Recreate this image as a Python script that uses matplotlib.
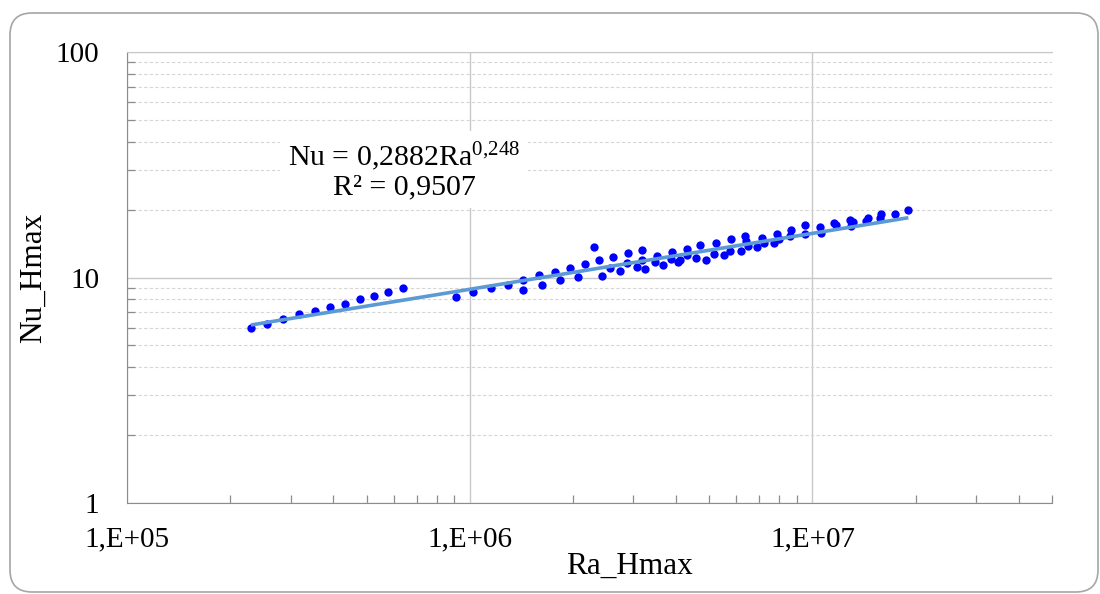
import matplotlib.pyplot as plt
import numpy as np
from matplotlib.patches import FancyBboxPatch
from matplotlib.ticker import FixedLocator, LogLocator, NullFormatter

plt.rcParams['font.family'] = ['Liberation Serif', 'DejaVu Serif']
plt.rcParams['mathtext.fontset'] = 'custom'
plt.rcParams['mathtext.rm'] = 'Liberation Serif'

# points (Ra_Hmax, Nu_Hmax)
ra = [2.30e5, 2.57e5, 2.86e5, 3.17e5, 3.54e5, 3.90e5, 4.32e5, 4.78e5, 5.25e5, 5.76e5, 6.37e5,
      9.14e5, 1.025e6, 1.152e6, 1.289e6, 1.435e6, 1.435e6, 1.588e6, 1.624e6, 1.772e6, 1.829e6,
      1.956e6, 2.065e6, 2.169e6, 2.300e6, 2.379e6, 2.437e6, 2.566e6, 2.624e6, 2.745e6, 2.878e6,
      2.891e6, 3.084e6, 3.184e6, 3.184e6, 3.242e6, 3.468e6, 3.522e6, 3.674e6, 3.869e6, 3.888e6,
      4.064e6, 4.111e6, 4.319e6, 4.319e6, 4.580e6, 4.705e6, 4.875e6, 5.159e6, 5.215e6, 5.503e6,
      5.731e6, 5.797e6, 6.172e6, 6.339e6, 6.412e6, 6.487e6, 6.906e6, 7.143e6, 7.226e6, 7.727e6,
      7.901e6, 7.98e6, 8.584e6, 8.684e6, 9.495e6, 9.495e6, 1.050e7, 1.062e7, 1.157e7, 1.175e7,
      1.285e7, 1.300e7, 1.315e7, 1.43e7, 1.448e7, 1.57e7, 1.584e7, 1.740e7, 1.905e7]
nu = [5.95, 6.25, 6.53, 6.87, 7.11, 7.43, 7.66, 8.01, 8.32, 8.66, 9.00,
      8.21, 8.58, 8.94, 9.31, 9.73, 8.78, 10.24, 9.31, 10.56, 9.73,
      11.04, 10.03, 11.42, 13.69, 11.94, 10.18, 11.04, 12.36, 10.67, 11.54,
      12.78, 11.16, 13.22, 11.94, 10.89, 11.66, 12.49, 11.39, 12.06, 12.92,
      11.66, 11.94, 13.36, 12.57, 12.24, 13.92, 11.94, 12.65, 14.16, 12.53,
      13.09, 14.86, 13.09, 15.32, 14.50, 13.78, 13.69, 15.01, 14.16, 14.26,
      15.64, 14.83, 15.26, 16.23, 17.02, 15.6, 16.80, 15.80, 17.38, 17.08,
      17.98, 16.90, 17.69, 17.79, 18.42, 18.42, 19.05, 19.05, 19.91]

# power trendline as printed on the chart
coef = 0.2882
expo = 0.248
r2 = 0.9507

xticks = [1e5, 1e6, 1e7]
xticklabels = ['1,E+05', '1,E+06', '1,E+07']
yticks = [1, 10, 100]
yticklabels = ['1', '10', '100']

fig = plt.figure(figsize=(11, 5.94), dpi=100)
ax = fig.add_axes([127 / 1100, 1 - 503 / 594, 925 / 1100, 451 / 594])

# chart area border with rounded corners
border = FancyBboxPatch((10 / 1100, 2 / 594), 1088 / 1100, 579 / 594,
                        boxstyle='round,pad=0,rounding_size=0.02',
                        mutation_aspect=1100 / 594,
                        transform=fig.transFigure, facecolor='none',
                        edgecolor='#a6a6a6', linewidth=1.2)
fig.patches.append(border)

ax.scatter(ra, nu, s=36, color='#0000ff', zorder=3, linewidths=0)

xs = np.array([min(ra), max(ra)])
ax.plot(xs, coef * xs ** expo, color='#5b9bd5', lw=2.6, zorder=4,
        solid_capstyle='butt')

ax.set_xscale('log')
ax.set_yscale('log')
ax.set_xlim(1e5, 5e7)
ax.set_ylim(1, 100)

ax.xaxis.set_major_locator(FixedLocator(xticks))
ax.set_xticklabels(xticklabels)
ax.xaxis.set_minor_locator(LogLocator(base=10, subs=np.arange(2, 10)))
ax.xaxis.set_minor_formatter(NullFormatter())
ax.yaxis.set_major_locator(FixedLocator(yticks))
ax.set_yticklabels(yticklabels)
ax.yaxis.set_minor_locator(LogLocator(base=10, subs=np.arange(2, 10)))
ax.yaxis.set_minor_formatter(NullFormatter())

ax.grid(which='major', axis='both', color='#c8c8c8', lw=1.0, zorder=0)
ax.grid(which='minor', axis='y', color='#d6d6d6', lw=0.8, ls=(0, (3, 2)), zorder=0)
ax.set_axisbelow(True)

ax.spines['right'].set_visible(False)
ax.spines['top'].set_color('#c8c8c8')
ax.spines['left'].set_color('#8c8c8c')
ax.spines['bottom'].set_color('#8c8c8c')

ax.tick_params(which='major', length=0, labelsize=21, colors='black')
ax.tick_params(axis='x', which='major', pad=17)
ax.tick_params(axis='y', which='major', pad=20)
ax.tick_params(which='minor', direction='in', length=6, width=0.9, color='#8c8c8c')

ax.set_xlabel('Ra_Hmax', fontsize=22.5)
ax.set_ylabel('Nu_Hmax', fontsize=22.5)
ax.xaxis.set_label_coords(0.543, -0.108)
ax.yaxis.set_label_coords(-0.085, 0.5)

eq = 'Nu = 0,2882Ra$\\mathregular{^{0{,}248}}$\nR² = 0,9507'
ax.text(0.2995, 0.738, eq, transform=ax.transAxes, ha='center', va='center',
        multialignment='center', fontsize=21.5, linespacing=1.05, zorder=5,
        bbox=dict(facecolor='white', edgecolor='none', pad=6))

fig.savefig('out.png', dpi=100)
